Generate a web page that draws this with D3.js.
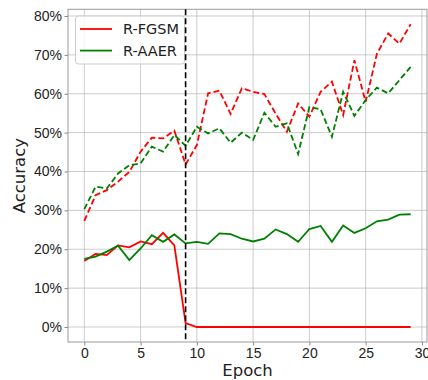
<!DOCTYPE html>
<html>
<head>
<meta charset="utf-8">
<script src="https://cdn.jsdelivr.net/npm/d3@7"></script>
<style>
  body { margin: 0; background: #fff; }
  svg { font-family: "DejaVu Sans", sans-serif; }
</style>
</head>
<body>
<div id="chart"></div>
<script>
const epochs = d3.range(0, 30);
const fgsmTest = [17.0, 18.8, 18.5, 21.0, 20.5, 22.0, 21.3, 24.2, 21.0, 1.0,
  0, 0, 0, 0, 0, 0, 0, 0, 0, 0, 0, 0, 0, 0, 0, 0, 0, 0, 0, 0];
const aaerTest = [17.5, 18.1, 19.4, 20.9, 17.2, 20.2, 23.6, 21.9, 23.8, 21.5,
  21.9, 21.4, 24.1, 23.9, 22.7, 22.0, 22.7, 25.1, 23.9, 21.9,
  25.2, 26.0, 21.9, 26.1, 24.2, 25.4, 27.2, 27.6, 28.9, 29.0];
const fgsmTrain = [27.3, 33.9, 35.2, 37.4, 39.9, 45.1, 48.7, 48.5, 50.5, 41.8,
  46.8, 60.1, 60.8, 54.8, 61.4, 60.5, 59.9, 54.9, 50.2, 57.5,
  54.1, 60.5, 63.1, 54.5, 68.6, 57.9, 70.3, 75.5, 72.9, 77.9];
const aaerTrain = [30.3, 36.1, 35.6, 39.5, 41.6, 42.1, 46.4, 45.1, 49.4, 46.6,
  51.5, 49.8, 51.1, 47.4, 50.0, 48.1, 55.1, 51.5, 52.4, 44.5,
  56.6, 56.0, 48.9, 60.5, 54.3, 58.4, 61.6, 60.1, 63.5, 66.9];
const xTicks = [0, 5, 10, 15, 20, 25, 30];
const yTicks = [0, 0.1, 0.2, 0.3, 0.4, 0.5, 0.6, 0.7, 0.8];
const switchEpoch = 9;
const legendNames = ["R-FGSM", "R-AAER"];
const legendColors = ["#ff0000", "#008000"];

const width = 428, height = 380;
const m = { left: 68, right: 427, top: 9.3, bottom: 342 };

const svg = d3.select("#chart").append("svg").attr("width", width).attr("height", height);

const x = d3.scaleLinear().domain([-1.45, 30.45]).range([m.left, m.right]);
const y = d3.scaleLinear().domain([-0.0386, 0.8172]).range([m.bottom, m.top]);

// grid
svg.append("g").selectAll("line").data(xTicks).enter().append("line")
  .attr("x1", d => x(d)).attr("x2", d => x(d)).attr("y1", m.top).attr("y2", m.bottom)
  .attr("stroke", "#b0b0b0").attr("stroke-width", 0.8).attr("opacity", 0.8);
svg.append("g").selectAll("line").data(yTicks).enter().append("line")
  .attr("x1", m.left).attr("x2", m.right).attr("y1", d => y(d)).attr("y2", d => y(d))
  .attr("stroke", "#b0b0b0").attr("stroke-width", 0.8).attr("opacity", 0.8);

// axes
const xAxis = svg.append("g").attr("transform", `translate(0,${m.bottom})`)
  .call(d3.axisBottom(x).tickValues(xTicks).tickSize(3.5).tickPadding(3));
const yAxis = svg.append("g").attr("transform", `translate(${m.left},0)`)
  .call(d3.axisLeft(y).tickValues(yTicks).tickFormat(d3.format(".0%")).tickSize(3.5).tickPadding(2.5));
[xAxis, yAxis].forEach(a => {
  a.select(".domain").remove();
  a.selectAll("line").attr("stroke", "#888");
  a.selectAll("text").attr("fill", "#222").style("font-size", "14px");
});

// frame
svg.append("rect").attr("x", m.left).attr("y", m.top).attr("width", m.right - m.left).attr("height", m.bottom - m.top)
  .attr("fill", "none").attr("stroke", "#999").attr("stroke-width", 1);

const line = d3.line().x((d, i) => x(epochs[i])).y(d => y(d / 100));

const series = [
  { data: fgsmTrain, color: legendColors[0], dash: "6,3" },
  { data: aaerTrain, color: legendColors[1], dash: "6,3" },
  { data: fgsmTest, color: legendColors[0], dash: null },
  { data: aaerTest, color: legendColors[1], dash: null }
];
series.forEach(s => {
  svg.append("path").datum(s.data).attr("d", line)
    .attr("fill", "none").attr("stroke", s.color).attr("stroke-width", 1.8)
    .attr("stroke-dasharray", s.dash);
});

// legend
const lg = svg.append("g");
lg.append("rect").attr("x", 75.5).attr("y", 16).attr("width", 109).attr("height", 48).attr("rx", 3)
  .attr("fill", "#fff").attr("fill-opacity", 0.8).attr("stroke", "#ccc");
legendNames.forEach((n, i) => {
  const cy = 29 + i * 21.6;
  lg.append("line").attr("x1", 80).attr("x2", 112).attr("y1", cy).attr("y2", cy)
    .attr("stroke", legendColors[i]).attr("stroke-width", 1.8);
  lg.append("text").attr("x", 123).attr("y", cy).attr("dy", "0.35em")
    .attr("fill", "#222").style("font-size", "14.5px").text(n);
});

svg.append("line").attr("x1", x(switchEpoch)).attr("x2", x(switchEpoch))
  .attr("y1", m.top).attr("y2", m.bottom)
  .attr("stroke", "#000").attr("stroke-width", 1.6).attr("stroke-dasharray", "6,3");

// labels
svg.append("text").attr("x", (m.left + m.right) / 2).attr("y", 376).attr("text-anchor", "middle")
  .attr("fill", "#222").style("font-size", "16.5px").text("Epoch");
svg.append("text").attr("transform", `translate(25,${(m.top + m.bottom) / 2}) rotate(-90)`)
  .attr("text-anchor", "middle").attr("fill", "#222").style("font-size", "16.5px").text("Accuracy");
</script>
</body>
</html>
